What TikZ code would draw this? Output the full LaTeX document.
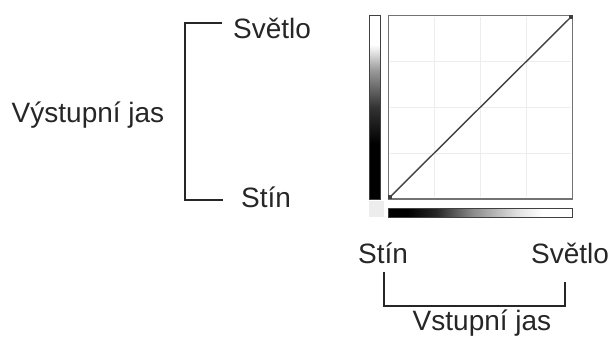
\documentclass[tikz,border=0pt]{standalone}
\usepackage{fontspec}
\setmainfont{Liberation Sans}
\pgfdeclareverticalshading{vgrad}{100bp}{color(0bp)=(black); color(40bp)=(black); color(50bp)=(black!80); color(60bp)=(black!40); color(67bp)=(white); color(100bp)=(white)}
\pgfdeclarehorizontalshading{hgrad}{100bp}{color(0bp)=(black); color(30bp)=(black); color(38bp)=(black!85); color(48bp)=(black!45); color(60bp)=(black!12); color(67bp)=(white); color(100bp)=(white)}
\begin{document}
\begin{tikzpicture}[x=1pt,y=-1pt,
  lbl/.style={font=\fontsize{28}{32}\selectfont, text=black!85, inner sep=0pt},
  brk/.style={draw=black!85, line width=1.3pt},
  gridln/.style={draw=black!7, line width=0.8pt},
  frame/.style={draw=black!55, line width=1.4pt},
  curve/.style={draw=black!75, line width=1.4pt},
  tick/.style={fill=black!75, minimum size=4pt, inner sep=0pt}]
\useasboundingbox (0,0) rectangle (612,340);
% labels
\node[lbl] (outl) at (88,115) {Výstupní jas};
\node[lbl] (lhi) at (272,28) {Světlo};
\node[lbl] (llo) at (266,197) {Stín};
\node[lbl] (blo) at (383,253) {Stín};
\node[lbl] (bhi) at (570,253) {Světlo};
\node[lbl] (inl) at (482,323) {Vstupní jas};
% left bracket
\coordinate (b1) at (222,23);
\coordinate (b2) at (185,23);
\coordinate (b3) at (185,200);
\coordinate (b4) at (223,200);
\draw[brk] (b1) -- (b2) -- (b3) -- (b4);
% bottom bracket
\coordinate (c1) at (384,272);
\coordinate (c2) at (384,306);
\coordinate (c3) at (565,306);
\coordinate (c4) at (565,282);
\draw[brk] (c1) -- (c2) -- (c3) -- (c4);
% graph
\fill[black!7] (369,201) rectangle (384,217);
\shade[shading=vgrad] (369.5,15.5) rectangle (380.5,199);
\draw[draw=black!75, line width=1pt] (369.5,15.5) rectangle (380.5,199);
\shade[shading=hgrad] (388.5,208) rectangle (572.5,217);
\draw[draw=black!75, line width=1pt] (388.5,208) rectangle (572.5,217);
\foreach \gx in {434,480,526} \draw[gridln] (\gx,17) -- (\gx,197);
\foreach \gy in {61,107,153} \draw[gridln] (390,\gy) -- (571,\gy);
\draw[frame] (388.5,15.5) rectangle (572.5,199);
\node[tick] (p0) at (390,197) {};
\node[tick] (p1) at (571,17) {};
\draw[curve] (p0.center) -- (p1.center);
\end{tikzpicture}
\end{document}
